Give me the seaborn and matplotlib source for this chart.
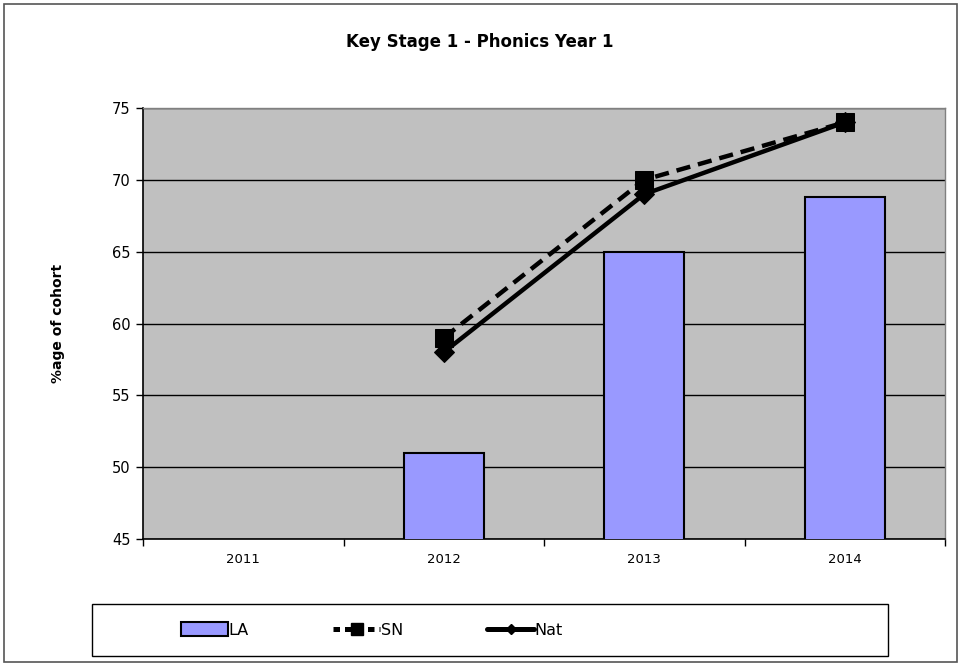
import numpy as np
import pandas as pd
import matplotlib
matplotlib.use("Agg")
import matplotlib.pyplot as plt
from matplotlib.patches import Rectangle, Patch
from matplotlib.lines import Line2D
import seaborn as sns

years = ["2011", "2012", "2013", "2014"]
la_values = [np.nan, 51, 65, 68.8]
sn_values = [np.nan, 59, 70, 74]
nat_values = [np.nan, 58, 69, 74]

sns.set_theme(style="white")
plt.rcParams["font.family"] = ["DejaVu Sans"]
plt.rcParams["text.color"] = "black"
plt.rcParams["axes.labelcolor"] = "black"
plt.rcParams["xtick.color"] = "black"
plt.rcParams["ytick.color"] = "black"

fig = plt.figure(figsize=(9.6, 6.66), dpi=100)
ax = fig.add_axes([143 / 960, 1 - 539 / 666, (945 - 143) / 960, (539 - 108) / 666])
ax.set_facecolor("#C0C0C0")

df = pd.DataFrame({"year": years, "LA": la_values, "SN": sn_values, "Nat": nat_values})
df["pos"] = np.arange(len(years))

sns.barplot(data=df, x="year", y="LA", order=years, color="#9999FF",
            saturation=1, width=0.4, edgecolor="black", linewidth=1.5, ax=ax, zorder=3)

sns.lineplot(data=df, x="pos", y="Nat", color="black", linewidth=3.2,
             marker="D", markersize=10, markeredgecolor="black", ax=ax, zorder=5)
sns.lineplot(data=df, x="pos", y="SN", color="black", linewidth=3.2,
             linestyle=(0, (3.2, 1.8)), marker="s", markersize=13,
             markeredgecolor="black", ax=ax, zorder=4)

ax.set_ylim(45, 75)
ax.set_xlim(-0.5, 3.5)
ax.set_yticks(np.arange(45, 76, 5))
ax.yaxis.grid(True, color="black", linewidth=1)
ax.set_axisbelow(True)
for b in ax.patches:
    b.set_zorder(3)

ax.set_xticks(np.arange(len(years)))
ax.set_xticklabels(years)
ax.set_xticks(np.arange(-0.5, len(years), 1), minor=True)
ax.tick_params(axis="x", which="major", length=0, labelsize=9.5, pad=10)
ax.tick_params(axis="x", which="minor", length=5, width=1, color="black", direction="out")
ax.tick_params(axis="y", length=5, width=1, color="black", direction="out", labelsize=10.5, pad=4)
ax.xaxis.set_ticks_position("bottom")
ax.yaxis.set_ticks_position("left")

ax.set_xlabel("")
ax.set_ylabel("%age of cohort", fontsize=10, fontweight="bold", labelpad=34)

for side in ["left", "bottom"]:
    ax.spines[side].set_color("black")
    ax.spines[side].set_linewidth(1.2)
for side in ["top", "right"]:
    ax.spines[side].set_color("#808080")
    ax.spines[side].set_linewidth(1)

fig.text(0.5, 1 - 42 / 666, "Key Stage 1 - Phonics Year 1", ha="center", va="center",
         fontsize=12, fontweight="bold")

# figure border
fig.patches.append(Rectangle((4 / 960, 4 / 666), 953 / 960, 658 / 666, transform=fig.transFigure,
                             fill=False, edgecolor="#555555", linewidth=1.2))
# legend frame
fig.patches.append(Rectangle((92 / 960, 1 - 656 / 666), (888 - 92) / 960, (656 - 604) / 666,
                             transform=fig.transFigure, fill=False, edgecolor="black", linewidth=1))

handles = [
    Patch(facecolor="#9999FF", edgecolor="black", linewidth=1.5),
    Line2D([], [], color="black", linewidth=3.6, linestyle=(0, (1.3, 1.0)), marker="s", markersize=9),
    Line2D([], [], color="black", linewidth=3.6, marker="D", markersize=5),
]
fig.legend(handles, ["LA", "SN", "Nat"], ncol=3, loc="center left",
           bbox_to_anchor=(167 / 960, 1 - 630 / 666), frameon=False, fontsize=11.5,
           handlelength=2.9, handletextpad=0.05, columnspacing=5.3, handleheight=0.95)

fig.savefig("out.png", dpi=100)
